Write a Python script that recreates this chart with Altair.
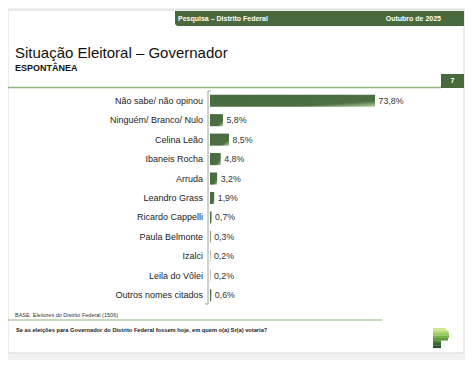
import altair as alt
import pandas as pd

categories = ["Não sabe/ não opinou", "Ninguém/ Branco/ Nulo", "Celina Leão", "Ibaneis Rocha",
              "Arruda", "Leandro Grass", "Ricardo Cappelli", "Paula Belmonte", "Izalci",
              "Leila do Vôlei", "Outros nomes citados"]
values = [73.8, 5.8, 8.5, 4.8, 3.2, 1.9, 0.7, 0.3, 0.2, 0.2, 0.6]

title_text = "Situação Eleitoral – Governador"
subtitle_text = "ESPONTÂNEA"
header_left = "Pesquisa – Distrito Federal"
header_right = "Outubro de 2025"
page_number = "7"
base_text = "BASE: Eleitores do Distrito Federal (1506)"
question_text = "Se as eleições para Governador do Distrito Federal fossem hoje, em quem o(a) Sr(a) votaria?"

W, H = 457, 352
GREEN = "#496a3d"
LINE_GREEN = "#8db47a"
FONT = "Liberation Sans"

df = pd.DataFrame({"cat": categories, "v": values})
df["label"] = [f"{v:.1f}".replace(".", ",") + "%" for v in values]

one = alt.Data(values=[{"k": 1}])

def rect(x, x2, y, y2, color, **kw):
    return alt.Chart(one).mark_rect(color=color, **kw).encode(
        x=alt.value(x), x2=alt.value(x2), y=alt.value(y), y2=alt.value(y2))

def text(t, x, y, size, **kw):
    return alt.Chart(one).mark_text(font=FONT, fontSize=size, **kw).encode(
        x=alt.value(x), y=alt.value(y), text=alt.value(t))

def rule(x, x2, y, y2, color, width=1):
    return alt.Chart(one).mark_rule(color=color, strokeWidth=width).encode(
        x=alt.value(x), x2=alt.value(x2), y=alt.value(y), y2=alt.value(y2))

# background and card
bg = rect(0, W, 0, H, "#f2f2f2")
card = rect(0, 456, 2, 345, "white", stroke="#d9d9d9", strokeWidth=1)

header = rect(167, 456, 3, 18, GREEN, cornerRadiusBottomLeft=3)
h1 = text(header_left, 170, 10.5, 7, fontWeight="bold", color="white", align="left", baseline="middle")
h2 = text(header_right, 433, 10.5, 7, fontWeight="bold", color="white", align="right", baseline="middle")

t1 = text(title_text, 7, 50, 15, color="#111111", align="left", baseline="alphabetic")
t2 = text(subtitle_text, 7, 59.5, 9, fontWeight="bold", color="#111111", align="left", baseline="middle")

box = rect(433, 456, 66, 80, GREEN)
boxt = text(page_number, 444.5, 73, 7, fontWeight="bold", color="white", align="center", baseline="middle")
topline = rule(0, 433, 79.5, 79.5, LINE_GREEN, 1.5)

# axis line
ax = rule(200, 200, 83, 296, "#a0a0a0", 1)
axt1 = rule(200, 203, 83, 83, "#a0a0a0", 1)
axt2 = rule(197, 200, 296, 296, "#a0a0a0", 1)

xs = alt.Scale(domain=[0, 100], range=[202, 202 + 2.236 * 100])
ys = alt.Scale(domain=categories, range=[83, 297], paddingInner=0.38, paddingOuter=0.19)

base = alt.Chart(df)
bars = base.mark_bar(
    color={"gradient": "linear", "x1": 0, "y1": 0, "x2": 1, "y2": 1,
           "stops": [{"offset": 0, "color": "#456a3b"},
                     {"offset": 0.75, "color": "#4c7041"},
                     {"offset": 1, "color": "#b3d0a4"}]}
).encode(
    x=alt.X("v:Q", scale=xs, axis=None),
    y=alt.Y("cat:N", scale=ys, axis=None, sort=categories),
)
vals = base.mark_text(font=FONT, fontSize=8.8, color="#333333", align="left", baseline="middle", dx=3.5).encode(
    x=alt.X("v:Q", scale=xs, axis=None),
    y=alt.Y("cat:N", scale=ys, axis=None, sort=categories),
    text="label:N",
)
cats = base.mark_text(font=FONT, fontSize=9, color="#222222", align="right", baseline="middle").encode(
    x=alt.value(195),
    y=alt.Y("cat:N", scale=ys, axis=None, sort=categories),
    text="cat:N",
)

bt = text(base_text, 7, 307, 5.5, color="#333333", align="left", baseline="middle")
botline = rule(0, 374, 312, 312, LINE_GREEN, 1.2)
qt = text(question_text, 8, 322, 5.7, fontWeight="bold", color="#222222", align="left", baseline="middle")

# logo stripes
logo_cols = ["#cfe58f", "#b6da74", "#97cb5c", "#78b44b", "#5e9a3f", "#467f36", "#34672f", "#254f29"]
logo_w = [13, 15.5, 16, 16, 15, 8, 8, 8]
logo = []
for i, c in enumerate(logo_cols):
    y0 = 320 + i * 2.5
    logo.append(rect(425, 425 + logo_w[i], y0, y0 + 2.6, c))

chart = alt.layer(bg, card, header, h1, h2, t1, t2, box, boxt, topline, ax, axt1, axt2,
                  bars, vals, cats, bt, botline, qt, *logo).properties(
    width=W, height=H, padding=0, autosize="none"
).configure_view(stroke=None)

chart.save("out.html", embed_options={"renderer": "svg", "actions": False})
